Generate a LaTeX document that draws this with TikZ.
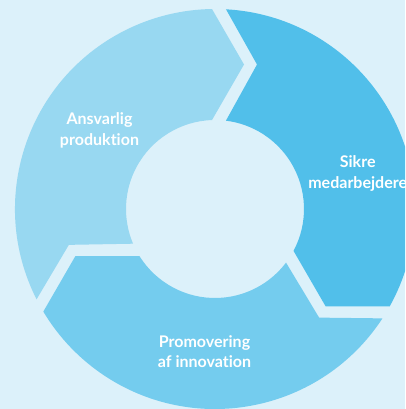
\documentclass[tikz,border=0pt]{standalone}
\usepackage{fontspec}
\setmainfont{Lato}[Ligatures={NoCommon}]
\usepackage{xcolor}
\usetikzlibrary{calc}
\definecolor{bg1}{HTML}{DCF1FA}
\definecolor{light1}{HTML}{98D8F1}
\definecolor{mid1}{HTML}{74CCEE}
\definecolor{dark1}{HTML}{51BFEA}
\tikzset{
  seglabel/.style={text=white, font=\fontsize{11.4}{14.6}\selectfont\bfseries, align=center},
}
\newcommand{\segpath}{(206.85:5) arc (206.85:90.86:5) -- (78.65:3.6845) -- (91.93:2.225) arc (91.93:202.95:2.225) -- (193.79:3.762) -- cycle}

\begin{document}
\begin{tikzpicture}

\clip (-5.375,-5) rectangle (4.75,5.225);
\fill[bg1] (-5.375,-5) rectangle (4.75,5.225);

\begin{scope}[rotate=0]
\fill[light1] \segpath;
\end{scope}

\begin{scope}[rotate=-120]
\fill[dark1] \segpath;
\end{scope}

\begin{scope}[rotate=-240]
\fill[mid1] \segpath;
\end{scope}


\node[seglabel] (ansvarlig) at (-2.8875,1.9625) {Ansvarlig\\produktion};
\node[seglabel] (sikre) at (3.5675,0.8875) {Sikre\\medarbejdere};
\node[seglabel] (promo) at (-0.2625,-3.5625) {Promovering\\af innovation};

\end{tikzpicture}
\end{document}
